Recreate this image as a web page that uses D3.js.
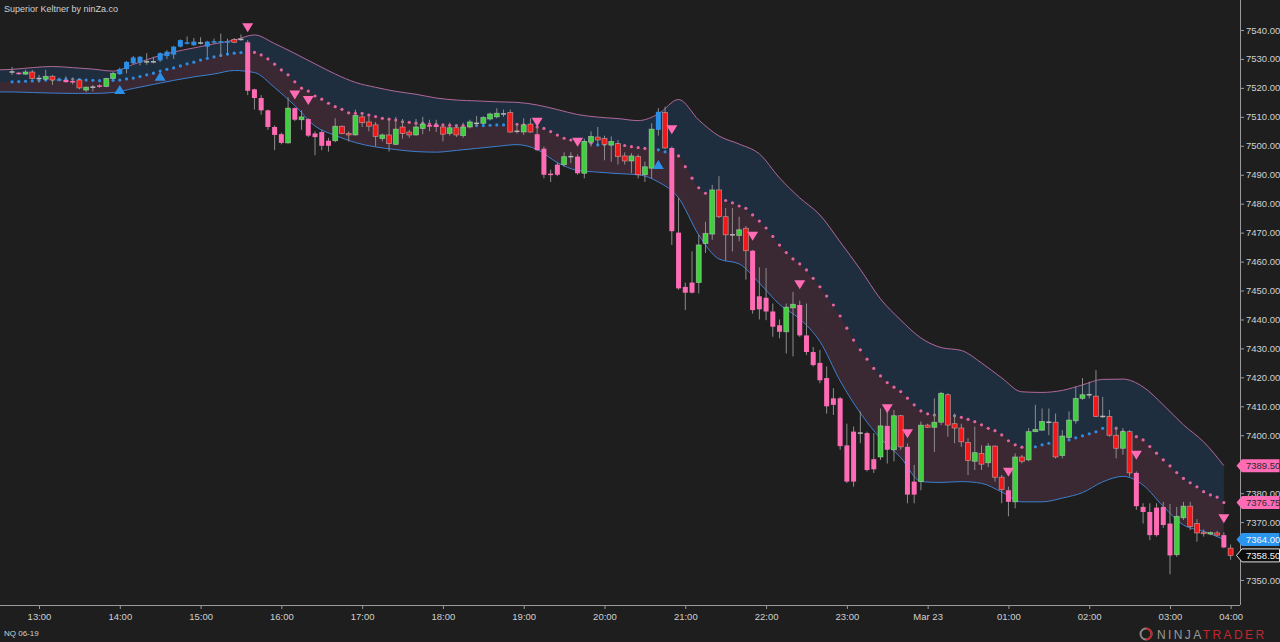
<!DOCTYPE html>
<html>
<head>
<meta charset="utf-8">
<script src="https://cdn.jsdelivr.net/npm/d3@7"></script>
<style>
html, body { margin: 0; padding: 0; background: #1e1e1e; overflow: hidden; }
svg { display: block; font-family: "Liberation Sans", Arial, sans-serif; }
</style>
</head>
<body>
<div id="viz"></div>
<script>
// ---- chart data (NQ 06-19, 5 min bars, first bar = 12:40) ----
// open, high, low, close
const ohlc = [
  [7525.5,7527.25,7524.5,7525.5],[7525.25,7525.5,7524.5,7524.75],[7524.75,7526.25,7524.5,7525.5],[7525.5,7526.25,7523,7523.25],
  [7523.25,7524.5,7521.75,7523.25],[7523,7526.25,7522.5,7524],[7524,7524.5,7521,7522.75],[7522.5,7523.5,7522.25,7523],
  [7522.75,7524,7521.75,7522],[7522.25,7523.5,7521.25,7522],[7522.75,7523,7519.5,7520],[7519.25,7520.5,7518.5,7520.25],
  [7520.25,7521,7518.75,7520.25],[7520.75,7521.25,7520,7520.5],[7520.5,7523.5,7520.25,7523.25],[7523.25,7525.5,7523,7525],
  [7524.75,7527,7524.5,7526.5],[7526.5,7529.25,7525,7529],[7528.5,7531,7528.25,7530.5],[7528.75,7531,7527.75,7530.75],
  [7529,7532,7528,7529],[7529,7530.75,7528.5,7529],[7529.5,7532.25,7529,7532],[7531,7533,7530,7532.5],
  [7531.5,7534.5,7530,7534.25],[7534.25,7536.75,7534,7536.5],[7535.25,7537.75,7535,7535.75],[7534.75,7537.25,7534.5,7536],
  [7535.5,7537.5,7535,7535.5],[7534.25,7536.25,7530.75,7536],[7535.75,7537,7535.25,7536],[7535.75,7538.75,7530.75,7536],
  [7535.75,7537,7531.25,7536],[7536.75,7537.25,7535.5,7535.75],[7536.75,7538.5,7536.25,7536.75],[7535.75,7536.5,7517.5,7519],
  [7519.5,7519.75,7512.5,7516.5],[7516.5,7517.5,7510.75,7512.25],[7512.25,7512.5,7505.5,7506.5],[7506.5,7507,7498.5,7503.75],
  [7504,7504.5,7500.5,7501],[7501,7516.75,7500.75,7513],[7513,7513.25,7508.5,7509],[7509,7512.25,7505.5,7510],
  [7509.25,7509.5,7503,7503.5],[7504.25,7505,7496.75,7503],[7504.75,7505.5,7498.5,7500],[7501.75,7502.75,7498,7500],
  [7501.75,7509.5,7501.25,7506.75],[7506.75,7507,7504,7504.25],[7504.25,7505,7501.5,7503.75],[7503.75,7512.5,7503.5,7510.5],
  [7510,7511.25,7506.5,7508],[7508.25,7510,7505,7506.75],[7507.25,7508.25,7499.75,7503.25],[7502.5,7504.25,7501.5,7503.75],
  [7503.75,7509.25,7498,7500.75],[7500.5,7510,7500.25,7505.75],[7506.5,7509.25,7502.5,7504.25],[7504.75,7505.5,7502.75,7503.75],
  [7503.75,7509.25,7503.5,7506.5],[7506,7510,7504,7507.5],[7507,7509,7505,7506.75],[7507.25,7509,7504.75,7506.5],
  [7506.5,7507.25,7501.5,7504],[7504.25,7508,7503.5,7506.25],[7506.25,7507.25,7503,7503.75],[7503.5,7508,7502.75,7506.5],
  [7506.5,7509,7506,7508.25],[7507.75,7510.25,7507,7507.75],[7507.75,7510.25,7507.25,7509.75],[7509.25,7511.5,7508.75,7511],
  [7510,7513,7509.5,7511.25],[7511,7512.5,7510,7511],[7511.5,7512.5,7504.5,7504.75],[7505,7507.5,7504.25,7505],
  [7504.75,7509.5,7503.75,7507.25],[7507.5,7509.5,7504.5,7504.75],[7504,7506.5,7498.25,7498.5],[7499,7499.75,7488.75,7490],
  [7490.25,7491.75,7487.5,7490],[7490,7494.25,7489.5,7493.5],[7493.5,7497.75,7492.75,7496.25],[7496.25,7497.75,7494,7496.25],
  [7496.25,7497,7490,7490.5],[7490.5,7502.5,7488.75,7501.5],[7501.25,7505,7499.75,7503.25],[7503,7506.5,7500.25,7502],
  [7502.5,7503.5,7495,7500.5],[7500.25,7503.25,7494.5,7501.5],[7500.75,7502,7493.5,7496.25],[7496.5,7497.75,7493.5,7494.75],
  [7494.75,7497.5,7490.5,7496.5],[7496.25,7497,7488.75,7490],[7490,7494.5,7487.5,7492.75],[7492.25,7507.75,7488.75,7505.75],
  [7505.5,7513,7503.5,7511.75],[7511.5,7513.5,7499,7499.25],[7499.25,7499.75,7465.75,7470.5],[7470,7482,7450.25,7450.75],
  [7451.25,7452.75,7443.25,7449.25],[7449.25,7463.5,7449,7452.75],[7452.75,7469.25,7449,7465.75],[7466.25,7473.75,7463,7469.75],
  [7469.5,7486.5,7467.5,7484.75],[7484.75,7489.5,7475,7475.5],[7475.5,7478.5,7460.25,7469.25],[7469.25,7478.5,7463.5,7469.25],
  [7469,7475.5,7467,7471],[7471.5,7472.25,7453.75,7463.75],[7463.75,7464,7442,7443.25],[7448,7458,7440,7443.5],
  [7447.5,7457.75,7439.75,7442.75],[7442.75,7445.5,7434,7437.5],[7438,7440,7433.5,7435.75],[7435.75,7445.5,7428.25,7444.25],
  [7444,7449.5,7427.25,7445.25],[7445,7446.5,7434,7434.5],[7434.5,7445.5,7427.75,7428.75],[7428.75,7430.5,7423.75,7424.25],
  [7425,7429.5,7418,7419],[7419.75,7423.75,7407.5,7410],[7412.75,7416.25,7407,7410.5],[7412.75,7413.25,7395,7396.25],
  [7396.5,7404,7383.5,7384],[7384,7403,7382.25,7401.25],[7400.75,7408.25,7397.25,7400.75],[7400.75,7401.25,7387.5,7388],
  [7388.25,7400.75,7387,7391.75],[7392.5,7409.25,7391.5,7403.25],[7403.25,7408.75,7390.25,7395],[7395,7408.75,7391,7406.75],
  [7406.75,7407,7395,7396],[7396,7397.25,7376.5,7379.5],[7379.5,7389.75,7376.5,7384],[7384,7404.75,7381,7403.5],
  [7403.5,7404,7402.5,7402.75],[7402.75,7412.75,7394.25,7404.5],[7404.5,7415,7403.5,7414.5],[7414,7414.5,7399.5,7403.5],
  [7404,7407.5,7397.25,7402.5],[7402.5,7404,7396,7397.75],[7397.5,7399,7386.25,7391.25],[7391,7403,7388,7394],
  [7393.75,7396.5,7388,7390],[7390.5,7397.25,7389,7396.25],[7396.25,7396.5,7384,7385.5],[7385.5,7386.25,7376.5,7381.25],
  [7381,7382.25,7372,7377],[7377,7393.75,7374.75,7392.5],[7392.5,7393.25,7390.25,7391],[7391.5,7402.5,7391,7401.25],
  [7401.25,7410.5,7401,7402],[7401.75,7409.25,7401.5,7404.75],[7404.5,7409.25,7400,7404.5],[7404.5,7407.5,7392,7392.5],
  [7393,7401.75,7392,7399.75],[7399.25,7408.25,7398.5,7405.25],[7405,7416.75,7404,7412.75],[7412.75,7419.75,7412.25,7414],
  [7414,7418.5,7412.75,7414],[7413.5,7422.5,7406.25,7406.5],[7406.5,7413.25,7406,7406.5],[7406.5,7408.75,7399.5,7400],
  [7400,7403,7392,7395.5],[7395.5,7402.5,7393.25,7401.25],[7401.25,7401.75,7385.75,7387],[7387,7387.5,7374.25,7375.5],
  [7375.25,7376.5,7369.5,7373.5],[7373.5,7376.5,7363.75,7365.5],[7365.5,7376.5,7365,7375],[7375.25,7377,7368,7369],
  [7369.5,7376.25,7352,7358.5],[7358.75,7375.25,7358,7372],[7371.5,7377,7370.75,7375.5],[7375.5,7377,7367.25,7368.5],
  [7369.5,7371,7363.25,7366.25],[7366.5,7367.5,7365,7366],[7366,7366.75,7365.5,7366.25],[7366.25,7367,7365,7365.5],
  [7365.5,7366.5,7361,7361.25],[7361,7362.25,7357,7358.5]
];

// bar paint from the indicator: U = above band, D = below band, N = plain candle
const barPaint = ("NDNNNNNUDD" + "NNNDNNUUUU" + "NNUUUUUUNU" + "UUUNNDDDDD" + "DNDNDDDDNN" +
  "NNNNNNNNNN" + "NNDDNNNNNN" + "NNNNNNNNDD" + "DDNNDNNNNN" + "NNNNNNUNDD" +
  "DDNNNNNNNN" + "DDDDDNNDDD" + "DDDDDDNDDN" + "DNNDDNNNNN" + "NNNNNNNNDN" +
  "NNNNNNNNNN" + "NNNNNNNDDD" + "DDDNNNNNNN" + "DN").split("");

// Keltner middle line, one value per bar starting at bar -3
const midBand = [
  7522.0,7522.0,7522.1,
  7522.1,7522.2,7522.3,7522.4,7522.6,7522.7,7522.8,7522.9,7523.0,7523.0,
  7522.9,7522.7,7522.6,7522.5,7522.5,7522.6,7522.7,7523.1,7523.4,7523.9,
  7524.5,7525.1,7525.8,7526.4,7526.9,7527.6,7528.3,7528.9,7529.6,7530.2,
  7530.7,7531.2,7531.7,7532.0,7532.2,7532.3,7532.3,7531.4,7530.0,7528.2,
  7526.2,7524.5,7522.1,7519.9,7518.9,7517.2,7516.1,7514.7,7513.5,7512.6,
  7511.4,7511.2,7511.2,7510.6,7510.1,7509.5,7509.2,7508.9,7508.3,7508.1,
  7507.8,7507.8,7507.5,7507.4,7507.2,7507.1,7507.0,7507.0,7507.0,7507.0,
  7507.0,7507.1,7507.2,7507.2,7507.4,7507.4,7507.2,7506.8,7506.5,7506.0,
  7504.9,7503.7,7502.6,7502.0,7501.4,7501.2,7500.9,7500.3,7500.4,7500.5,
  7500.3,7500.1,7499.7,7499.4,7499.1,7498.6,7498.6,7497.9,7497.5,7496.5,
  7492.8,7488.8,7485.5,7483.6,7481.9,7481.3,7481.1,7480.3,7479.2,7478.4,
  7476.1,7474.0,7471.6,7468.7,7465.7,7463.1,7460.9,7459.2,7457.1,7454.2,
  7451.3,7448.1,7445.0,7441.2,7437.0,7432.9,7429.5,7426.3,7423.1,7420.5,
  7418.2,7416.6,7415.1,7412.8,7410.5,7408.4,7407.4,7407.0,7406.7,7406.5,
  7406.7,7406.2,7405.5,7404.7,7403.6,7402.4,7401.6,7400.1,7398.1,7396.7,
  7395.9,7395.9,7396.0,7396.7,7397.2,7397.8,7398.2,7398.4,7399.1,7399.8,
  7400.5,7401.2,7402.4,7403.0,7402.4,7401.2,7400.5,7399.5,7398.4,7396.1,
  7393.8,7391.5,7389.4,7387.1,7385.1,7383.6,7382.2,7380.5,7379.4,7378.6,
  7376.75
];
// upper / lower band, read every 3rd bar starting at bar -3
const upperBand = [
  7526.2,7526.4,7527.0,7527.4,7527.0,7526.5,7525.8,7528.1,7530.5,7532.4,7533.8,
  7535.2,7536.5,7538.3,7535.3,7531.9,7528.3,7524.8,7521.9,7520.2,7518.8,
  7517.8,7516.5,7515.8,7515.5,7515.2,7515.0,7514.1,7512.5,7510.8,7509.9,
  7509.4,7508.7,7511.0,7516.0,7508.9,7503.4,7500.6,7497.2,7488.9,7482.0,
  7476.1,7466.8,7457.3,7447.1,7439.8,7433.6,7430.3,7429.3,7425.0,7419.8,
  7415.0,7414.8,7415.5,7417.4,7419.3,7419.4,7416.7,7410.5,7403.6,7397.7,7389.5
];
const lowerBand = [
  7518.6,7518.6,7518.4,7518.2,7518.1,7518.1,7518.4,7519.8,7521.2,7522.6,7523.8,
  7524.8,7526.0,7525.3,7520.1,7513.9,7506.8,7503.6,7501.1,7499.6,7498.7,
  7498.0,7497.8,7498.4,7499.1,7499.8,7500.4,7498.7,7494.2,7491.5,7490.9,
  7490.4,7490.0,7487.5,7482.0,7469.2,7460.9,7459.2,7452.6,7445.2,7440.2,
  7432.4,7418.8,7407.7,7398.9,7392.3,7384.0,7383.7,7384.0,7383.4,7380.4,
  7377.0,7377.0,7378.3,7380.2,7383.9,7385.8,7382.8,7375.4,7369.0,7366.8,7364.0
];
const bandStart = -3, bandStep = 3;

// bars where the middle line is in up-trend (blue dots)
const midUpSpans = [[0, 34], [69, 73], [87, 89], [96, 97], [152, 163]];

// signal arrows
const sellBars = [35, 42, 44, 78, 84, 98, 110, 117, 130, 133, 148, 167, 180];
const sellPrices = [7539.2, 7516, 7514.1, 7506.6, 7499.7, 7504, 7467.2, 7450.4, 7407.6, 7399, 7385.7, 7391.5, 7369.6];
const buyBars = [16, 22, 96];
const buyPrices = [7521, 7525.6, 7495.1];

// axes
const timeTickBars = [4, 16, 28, 40, 52, 64, 76, 88, 100, 112, 124, 136, 148, 160, 172, 181];
const timeTickLabels = ["13:00", "14:00", "15:00", "16:00", "17:00", "18:00", "19:00", "20:00",
  "21:00", "22:00", "23:00", "Mar 23", "01:00", "02:00", "03:00", "04:00"];
const priceTicks = [7350, 7360, 7370, 7380, 7390, 7400, 7410, 7420, 7430, 7440,
  7450, 7460, 7470, 7480, 7490, 7500, 7510, 7520, 7530, 7540];

// price markers on the right axis
const markerValues = [7389.5, 7376.75, 7364.0, 7358.5];
const markerKinds = ["upper", "mid", "lower", "last"];

// ---- drawing ----
const outerWidth = 1280, outerHeight = 642,
    plotRight = 1240, plotBottom = 605;

const colors = {
  bg: "#1e1e1e", text: "#d0d0d0", axis: "#9a9a9a",
  up: "#2b8fe8", down: "#ff6cb5", green: "#3fd03f", red: "#f01818",
  wick: "#8c8c8c", upperLine: "#b0689a", lowerLine: "#3d7fcf",
  upperFill: "#1f2e3f", lowerFill: "#3a2833", dotUp: "#2f8be0", dotDown: "#df64a0"
};

const svg = d3.select("#viz").append("svg")
    .attr("width", outerWidth)
    .attr("height", outerHeight);

svg.append("rect").attr("width", outerWidth).attr("height", outerHeight).attr("fill", colors.bg);

const x = d3.scaleLinear().domain([0, 181]).range([12.07, 1230.6]);
const y = d3.scaleLinear().domain([7350, 7540]).range([580, 30]);

svg.append("clipPath").attr("id", "plot")
  .append("rect").attr("x", 0).attr("y", 0).attr("width", plotRight).attr("height", plotBottom);

const plot = svg.append("g").attr("clip-path", "url(#plot)");

// band fills
const bandPts = upperBand.map((u, k) => {
  const bar = bandStart + k * bandStep;
  return { bar: bar, u: u, l: lowerBand[k], m: midBand[bar - bandStart] };
});

const upperArea = d3.area().x(d => x(d.bar)).y0(d => y(d.m)).y1(d => y(d.u)).curve(d3.curveMonotoneX);
const lowerArea = d3.area().x(d => x(d.bar)).y0(d => y(d.m)).y1(d => y(d.l)).curve(d3.curveMonotoneX);

plot.append("path").datum(bandPts).attr("d", upperArea).attr("fill", colors.upperFill);
plot.append("path").datum(bandPts).attr("d", lowerArea).attr("fill", colors.lowerFill);

plot.append("path").datum(bandPts)
    .attr("d", d3.line().x(d => x(d.bar)).y(d => y(d.u)).curve(d3.curveMonotoneX))
    .attr("fill", "none").attr("stroke", colors.upperLine).attr("stroke-width", 1);
plot.append("path").datum(bandPts)
    .attr("d", d3.line().x(d => x(d.bar)).y(d => y(d.l)).curve(d3.curveMonotoneX))
    .attr("fill", "none").attr("stroke", colors.lowerLine).attr("stroke-width", 1);

// middle line dots
const isUp = bar => midUpSpans.some(s => bar >= s[0] && bar <= s[1]);
const midPts = midBand.map((v, k) => ({ bar: bandStart + k, v: v })).filter(d => d.bar >= 0);
plot.append("g").selectAll("circle")
    .data(midPts).enter()
    .append("circle")
    .attr("cx", d => x(d.bar))
    .attr("cy", d => y(d.v))
    .attr("r", 1.6)
    .attr("fill", d => isUp(d.bar) ? colors.dotUp : colors.dotDown);

// candles
const bars = ohlc.map((d, i) => ({ i: i, o: d[0], h: d[1], l: d[2], c: d[3], p: barPaint[i] }));
const bodyW = 5;

const candle = plot.append("g").selectAll("g")
    .data(bars).enter()
    .append("g");

candle.append("line")
    .attr("x1", d => x(d.i)).attr("x2", d => x(d.i))
    .attr("y1", d => y(d.h)).attr("y2", d => y(d.l))
    .attr("stroke", colors.wick).attr("stroke-width", 1);

function bodyFill(d) {
  if (d.p === "U") return colors.up;
  if (d.p === "D") return colors.down;
  if (d.c > d.o) return colors.green;
  if (d.c < d.o) return colors.red;
  return "#b8b8b8";
}

candle.append("rect")
    .attr("x", d => x(d.i) - bodyW / 2)
    .attr("width", bodyW)
    .attr("y", d => {
      const top = y(Math.max(d.o, d.c)), h = Math.abs(y(d.o) - y(d.c));
      return h < 1.5 ? (top + h / 2 - 0.75) : top;
    })
    .attr("height", d => Math.max(1.5, Math.abs(y(d.o) - y(d.c))))
    .attr("fill", bodyFill)
    .attr("stroke", d => d.p === "N" && d.o !== d.c ? "#d6d6d6" : "none")
    .attr("stroke-opacity", 0.55)
    .attr("stroke-width", 0.8);

// signal triangles
plot.append("g").selectAll("path")
    .data(sellBars.map((b, k) => ({ bar: b, v: sellPrices[k] }))).enter()
    .append("path")
    .attr("d", d => {
      const cx = x(d.bar), cy = y(d.v);
      return "M" + cx + "," + cy + "L" + (cx - 5.5) + "," + (cy - 9) + "L" + (cx + 5.5) + "," + (cy - 9) + "Z";
    })
    .attr("fill", colors.down);

plot.append("g").selectAll("path")
    .data(buyBars.map((b, k) => ({ bar: b, v: buyPrices[k] }))).enter()
    .append("path")
    .attr("d", d => {
      const cx = x(d.bar), cy = y(d.v);
      return "M" + cx + "," + cy + "L" + (cx - 5.5) + "," + (cy + 9) + "L" + (cx + 5.5) + "," + (cy + 9) + "Z";
    })
    .attr("fill", colors.up);

// price axis (right); labels hidden behind a price marker are dropped
const coveredByMarker = v => markerValues.some(m => Math.abs(y(m) - y(v)) < 6);
const yAxis = svg.append("g")
    .attr("transform", "translate(" + plotRight + ",0)")
    .call(d3.axisRight(y).tickValues(priceTicks)
      .tickFormat(d => coveredByMarker(d) ? "" : d3.format(".2f")(d))
      .tickSize(4).tickPadding(2));
yAxis.select(".domain").attr("d", "M0.5,0V" + plotBottom).attr("stroke", colors.axis);

// time axis (bottom)
const xAxis = svg.append("g")
    .attr("transform", "translate(0," + plotBottom + ")")
    .call(d3.axisBottom(x).tickValues(timeTickBars)
      .tickFormat((d, k) => timeTickLabels[k]).tickSize(4).tickPadding(4));
xAxis.select(".domain").attr("d", "M0,0.5H" + plotRight).attr("stroke", colors.axis);

svg.selectAll(".tick line").attr("stroke", colors.axis);
svg.selectAll(".tick text")
    .attr("fill", colors.text)
    .attr("font-size", "9.5px")
    .attr("font-family", "'Liberation Sans', Arial, sans-serif");

// right side price markers
const markerStyle = {
  upper: { fill: colors.down, stroke: "none", text: "#2a2a2a" },
  mid: { fill: colors.down, stroke: "none", text: "#2a2a2a" },
  lower: { fill: "#2b95f0", stroke: "none", text: "#f4f4f4" },
  last: { fill: "#0c0c0c", stroke: "#e0e0e0", text: "#f4f4f4" }
};
const marker = svg.append("g").selectAll("g")
    .data(markerValues.map((v, k) => ({ v: v, kind: markerKinds[k] }))).enter()
    .append("g")
    .attr("transform", d => "translate(0," + y(d.v) + ")");
marker.append("path")
    .attr("d", "M1236.5,0L1242,-6.5L1279.5,-6.5L1279.5,6.5L1242,6.5Z")
    .attr("fill", d => markerStyle[d.kind].fill)
    .attr("stroke", d => markerStyle[d.kind].stroke);
marker.append("text")
    .attr("x", 1246).attr("dy", "0.35em")
    .attr("font-size", "9.5px")
    .attr("fill", d => markerStyle[d.kind].text)
    .text(d => d3.format(".2f")(d.v));

// captions
svg.append("text")
    .attr("x", 4).attr("y", 12)
    .attr("font-size", "9px").attr("fill", colors.text)
    .text("Superior Keltner by ninZa.co");
svg.append("text")
    .attr("x", 4).attr("y", 636)
    .attr("font-size", "8px").attr("fill", colors.text)
    .text("NQ 06-19");

// NinjaTrader watermark
const logo = svg.append("g");
logo.append("circle").attr("cx", 1146).attr("cy", 634).attr("r", 5.5)
    .attr("fill", "none").attr("stroke", "#8a8a8a").attr("stroke-width", 2);
logo.append("path").attr("d", "M1146,628.5A5.5,5.5 0 0 1 1146,639.5")
    .attr("fill", "none").attr("stroke", "#c0282e").attr("stroke-width", 2);
const brand = logo.append("text")
    .attr("x", 1157).attr("y", 639)
    .attr("font-size", "12px").attr("letter-spacing", "2.4px");
brand.append("tspan").attr("fill", "#9a9a9a").text("NINJA");
brand.append("tspan").attr("fill", "#c0282e").text("TRADER");
</script>
</body>
</html>
